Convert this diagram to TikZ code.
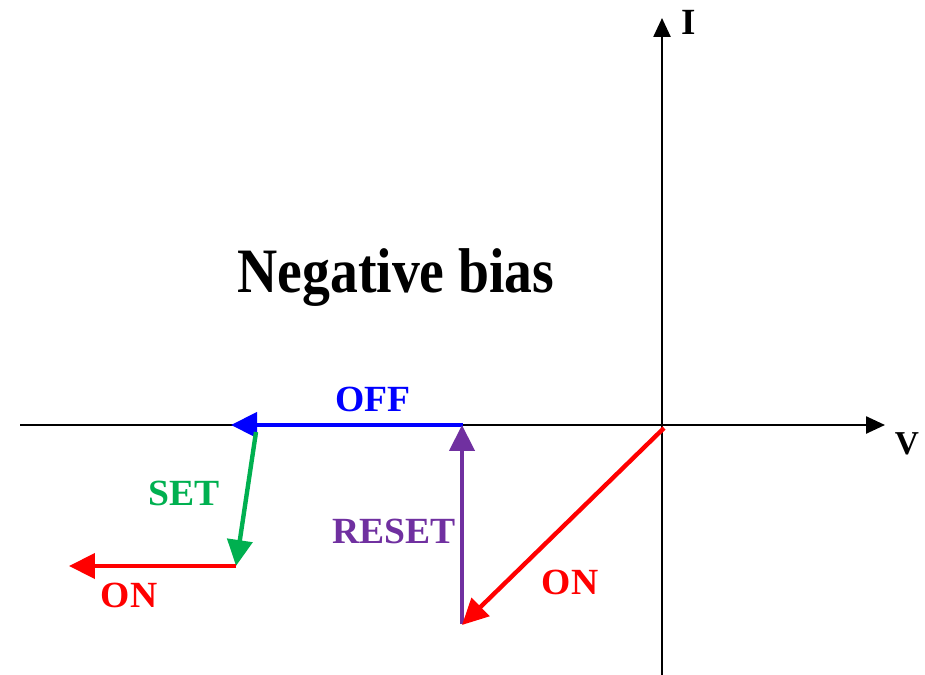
\documentclass[tikz,border=0pt]{standalone}
\usepackage{fontspec}
\setmainfont{Liberation Serif}
\usetikzlibrary{arrows.meta}

\newcommand*{\xmin}{20}
\newcommand*{\xmax}{885}
\newcommand*{\ymin}{675}
\newcommand*{\ymax}{18}

\definecolor{offblue}{RGB}{0,0,255}
\definecolor{setgreen}{RGB}{0,176,80}
\definecolor{resetpurple}{RGB}{112,48,160}
\definecolor{onred}{RGB}{255,0,0}

\begin{document}
\begin{tikzpicture}
[
	x=0.02cm, y=-0.02cm,
	axis/.style={line width=1.4pt,-{Triangle[length=0.38cm,width=0.34cm]}},
	branch/.style={line width=2.5pt,-{Triangle[length=0.52cm,width=0.5cm]}},
	lbl/.style={font=\bfseries\fontsize{21}{21}\selectfont,inner sep=0pt,xscale=1.02},
	axlbl/.style={font=\bfseries\fontsize{21}{21}\selectfont,inner sep=0pt}
]
	\useasboundingbox (0,0) rectangle (925,675);

	% axes
	\coordinate (O) at (662,425);
	\coordinate (xl) at (\xmin,425);
	\coordinate (xr) at (\xmax,425);
	\coordinate (yb) at (662,\ymin);
	\coordinate (yt) at (662,\ymax);
	\draw[axis] (xl) -- (xr);
	\draw[axis] (yb) -- (yt);
	\node[axlbl] (Ilbl) at (689,22) {I};
	\node[axlbl,font=\bfseries\fontsize{19}{19}\selectfont] (Vlbl) at (907,444) {V};

	% title
	\node[font=\bfseries\fontsize{36}{36}\selectfont,inner sep=0pt,xscale=0.88] (title) at (396,278) {Negative bias};

	% switching path
	\coordinate (offA) at (463,425);
	\coordinate (offB) at (231,425);
	\coordinate (setA) at (256,432);
	\coordinate (setB) at (236,566);
	\coordinate (onA) at (236,566);
	\coordinate (onB) at (69,566);
	\coordinate (rstA) at (462,624);
	\coordinate (rstB) at (462,425);
	\coordinate (diagA) at (664,428);
	\coordinate (diagB) at (462,625);

	\draw[branch,offblue] (offA) -- (offB);
	\draw[branch,setgreen] (setA) -- (setB);
	\draw[branch,onred] (onA) -- (onB);
	\draw[branch,resetpurple] (rstA) -- (rstB);
	\draw[branch,onred] (diagA) -- (diagB);

	% labels
	\node[lbl,offblue] (offlbl) at (373,399) {OFF};
	\node[lbl,setgreen] (setlbl) at (184,493) {SET};
	\node[lbl,onred] (onlbl1) at (129,595) {ON};
	\node[lbl,resetpurple] (rstlbl) at (394,531) {RESET};
	\node[lbl,onred] (onlbl2) at (570,582) {ON};

\end{tikzpicture}
\end{document}
